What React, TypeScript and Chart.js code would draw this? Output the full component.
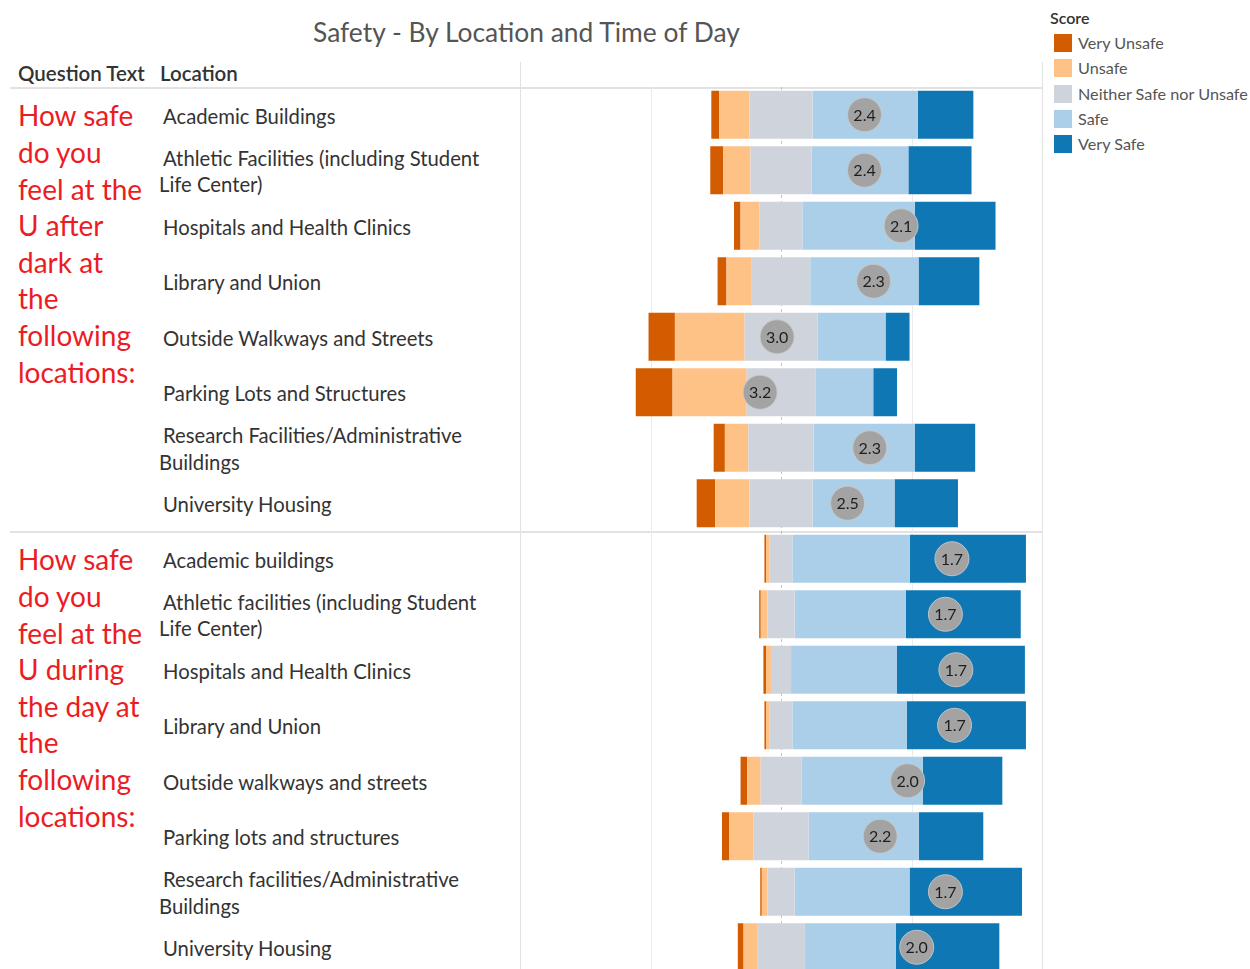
import React, { useEffect, useRef } from 'react';
import { Chart, registerables } from 'chart.js';

Chart.register(...registerables);

// ---------- Data ----------
const titleText = 'Safety - By Location and Time of Day';
const headerQuestion = 'Question Text';
const headerLocation = 'Location';
const legendTitle = 'Score';
const legendLabels = ['Very Unsafe', 'Unsafe', 'Neither Safe nor Unsafe', 'Safe', 'Very Safe'];

const questionNight = ['How safe', 'do you', 'feel at the', 'U after', 'dark at', 'the', 'following', 'locations:'];
const questionDay = ['How safe', 'do you', 'feel at the', 'U during', 'the day at', 'the', 'following', 'locations:'];

const locationsNight = [
  ['Academic Buildings'],
  ['Athletic Facilities (including Student', 'Life Center)'],
  ['Hospitals and Health Clinics'],
  ['Library and Union'],
  ['Outside Walkways and Streets'],
  ['Parking Lots and Structures'],
  ['Research Facilities/Administrative', 'Buildings'],
  ['University Housing'],
];
const locationsDay = [
  ['Academic buildings'],
  ['Athletic facilities (including Student', 'Life Center)'],
  ['Hospitals and Health Clinics'],
  ['Library and Union'],
  ['Outside walkways and streets'],
  ['Parking lots and structures'],
  ['Research facilities/Administrative', 'Buildings'],
  ['University Housing'],
];

// percentages per row (night rows first, then day rows)
const veryUnsafe = [3.0, 4.9, 2.5, 3.4, 10.1, 14.1, 4.3, 7.1, 0.6, 0.6, 1.0, 0.6, 2.5, 2.8, 0.6, 2.2];
const unsafe = [11.6, 10.5, 7.3, 9.7, 26.7, 28.4, 9.0, 13.1, 1.4, 2.5, 1.9, 1.4, 5.2, 9.2, 2.1, 5.2];
const neither = [24.2, 23.4, 16.4, 22.4, 27.9, 26.3, 25.0, 24.2, 8.7, 10.5, 7.7, 8.7, 15.6, 21.2, 10.5, 18.3];
const safe = [40.3, 37.1, 43.1, 41.5, 26.1, 22.2, 38.7, 31.4, 45.0, 42.6, 40.6, 43.9, 46.5, 42.2, 44.0, 34.8];
const verySafe = [21.3, 24.2, 30.9, 23.3, 9.2, 9.1, 23.2, 24.3, 44.5, 44.0, 49.0, 45.6, 30.5, 24.7, 43.1, 39.7];
// mean score (1 = Very Safe ... 5 = Very Unsafe)
const meanScore = [2.36, 2.36, 2.08, 2.29, 3.03, 3.16, 2.32, 2.49, 1.69, 1.74, 1.66, 1.67, 2.03, 2.24, 1.74, 1.96];

const gridValues = [-50, 0, 50];

// ---------- Styles ----------
const COLORS = {
  veryUnsafe: '#d35c00',
  unsafe: '#fec186',
  neither: '#cfd4dc',
  safe: '#abcfe8',
  verySafe: '#0f77b3',
};
const legendColors = [COLORS.veryUnsafe, COLORS.unsafe, COLORS.neither, COLORS.safe, COLORS.verySafe];
const FONT = 'Lato, "Open Sans", sans-serif';
const ROW_H = 55.5;
const CHART_TOP = 87;
const CHART_LEFT = 520;
const CHART_W = 522;
const X_MIN = -100;
const X_MAX = 100;

const categories = [...locationsNight, ...locationsDay].map((l) => l.join(' '));

const gridPlugin = {
  id: 'customGrid',
  beforeDatasetsDraw(chart: any) {
    const { ctx, chartArea, scales } = chart;
    const x = scales.x;
    gridValues.forEach((v) => {
      const px = Math.round(x.getPixelForValue(v)) + 0.5;
      ctx.save();
      ctx.strokeStyle = v === 0 ? '#c4c4c4' : '#ececec';
      ctx.lineWidth = 1;
      ctx.setLineDash(v === 0 ? [3, 3] : []);
      ctx.beginPath();
      ctx.moveTo(px, chartArea.top);
      ctx.lineTo(px, chartArea.bottom);
      ctx.stroke();
      ctx.restore();
    });
  },
};

const meanLabelPlugin = {
  id: 'meanLabels',
  afterDatasetsDraw(chart: any) {
    const { ctx } = chart;
    const idx = chart.data.datasets.findIndex((d: any) => d.label === 'Mean score');
    const meta = chart.getDatasetMeta(idx);
    ctx.save();
    ctx.font = '16px ' + FONT;
    ctx.fillStyle = '#1e1e1e';
    ctx.textAlign = 'center';
    ctx.textBaseline = 'middle';
    meta.data.forEach((pt: any, i: number) => {
      ctx.fillText(meanScore[i].toFixed(1), pt.x, pt.y + 1);
    });
    ctx.restore();
  },
};

function ChartCanvas() {
  const ref = useRef<HTMLCanvasElement | null>(null);
  useEffect(() => {
    if (!ref.current) return;
    const half = neither.map((v) => v / 2);
    const barCommon = {
      stack: 'likert',
      barPercentage: 0.865,
      categoryPercentage: 1,
      borderWidth: 0,
      order: 1,
    };
    const chart = new Chart(ref.current, {
      type: 'bar',
      data: {
        labels: categories,
        datasets: [
          { ...barCommon, label: 'Neither Safe nor Unsafe', data: half.map((v) => -v), backgroundColor: COLORS.neither },
          { ...barCommon, label: 'Neither (right half)', data: half, backgroundColor: COLORS.neither },
          { ...barCommon, label: 'Unsafe', data: unsafe.map((v) => -v), backgroundColor: COLORS.unsafe },
          { ...barCommon, label: 'Safe', data: safe, backgroundColor: COLORS.safe },
          { ...barCommon, label: 'Very Unsafe', data: veryUnsafe.map((v) => -v), backgroundColor: COLORS.veryUnsafe },
          { ...barCommon, label: 'Very Safe', data: verySafe, backgroundColor: COLORS.verySafe },
          {
            type: 'line',
            label: 'Mean score',
            indexAxis: 'y',
            stack: 'mean',
            order: 0,
            showLine: false,
            data: meanScore.map((s) => (3 - s) * 50),
            pointRadius: 17,
            pointHoverRadius: 17,
            pointBackgroundColor: '#a3a3a3',
            pointBorderColor: 'rgba(200,200,200,0.9)',
            pointBorderWidth: 1,
          } as any,
        ],
      },
      options: {
        indexAxis: 'y',
        responsive: false,
        animation: false,
        events: [],
        layout: { padding: 0, autoPadding: false },
        plugins: { legend: { display: false }, tooltip: { enabled: false } },
        scales: {
          x: { type: 'linear', min: X_MIN, max: X_MAX, stacked: true, display: false },
          y: { type: 'category', stacked: true, display: false, offset: true },
        },
      } as any,
      plugins: [gridPlugin, meanLabelPlugin],
    });
    return () => chart.destroy();
  }, []);
  return (
    <canvas
      ref={ref}
      width={CHART_W}
      height={ROW_H * 16}
      style={{ position: 'absolute', left: CHART_LEFT, top: CHART_TOP, width: CHART_W, height: ROW_H * 16 }}
    />
  );
}

function hLine(top: number) {
  return <div style={{ position: 'absolute', left: 10, top, width: 1032, height: 2, background: '#e2e2e2' }} />;
}
function vLine(left: number) {
  return <div style={{ position: 'absolute', left, top: 62, width: 1.5, height: 910, background: '#e2e2e2' }} />;
}

export default function App() {
  const groups = [
    { q: questionNight, locs: locationsNight, offset: 0 },
    { q: questionDay, locs: locationsDay, offset: 8 },
  ];
  const LABEL_LH = 26.5;
  const Q_LH = 36.6;
  return (
    <div
      style={{
        position: 'absolute',
        left: 0,
        top: 0,
        width: 1250,
        height: 969,
        overflow: 'hidden',
        background: '#fff',
        fontFamily: FONT,
      }}
    >
      <div
        style={{
          position: 'absolute',
          left: 313,
          top: 16,
          fontSize: 26.4,
          lineHeight: '32px',
          color: '#555',
          whiteSpace: 'nowrap',
        }}
      >
        {titleText}
      </div>

      <div style={{ position: 'absolute', left: 18, top: 61, fontSize: 20.5, lineHeight: '24px', fontWeight: 600, color: '#333', whiteSpace: 'nowrap' }}>
        {headerQuestion}
      </div>
      <div style={{ position: 'absolute', left: 160, top: 61, fontSize: 20.5, lineHeight: '24px', fontWeight: 600, color: '#333', whiteSpace: 'nowrap' }}>
        {headerLocation}
      </div>

      {hLine(87)}
      {hLine(531)}
      {vLine(519.5)}
      {vLine(1041.5)}

      {groups.map((g, gi) => (
        <React.Fragment key={gi}>
          {g.q.map((line, li) => {
            const firstCenter = CHART_TOP + ROW_H * (g.offset + 0.5) + 1;
            return (
              <div
                key={'q' + li}
                style={{
                  position: 'absolute',
                  left: 18,
                  top: firstCenter + li * Q_LH - Q_LH / 2,
                  fontSize: 28,
                  lineHeight: Q_LH + 'px',
                  color: '#ec1c24',
                  whiteSpace: 'nowrap',
                }}
              >
                {line}
              </div>
            );
          })}
          {g.locs.map((lines, ri) => {
            const center = CHART_TOP + ROW_H * (g.offset + ri + 0.5) + 1;
            const top0 = center - (lines.length * LABEL_LH) / 2;
            return lines.map((t, k) => (
              <div
                key={'l' + ri + '-' + k}
                style={{
                  position: 'absolute',
                  left: k === 0 ? 163 : 159,
                  top: top0 + k * LABEL_LH,
                  fontSize: 20.3,
                  lineHeight: LABEL_LH + 'px',
                  color: '#333',
                  whiteSpace: 'nowrap',
                }}
              >
                {t}
              </div>
            ));
          })}
        </React.Fragment>
      ))}

      <ChartCanvas />

      <div style={{ position: 'absolute', left: 1050, top: 8, fontSize: 16, lineHeight: '20px', fontWeight: 600, color: '#333' }}>
        {legendTitle}
      </div>
      {legendLabels.map((l, i) => (
        <React.Fragment key={l}>
          <div
            style={{
              position: 'absolute',
              left: 1054,
              top: 34 + i * 25.3,
              width: 18,
              height: 18,
              background: legendColors[i],
            }}
          />
          <div
            style={{
              position: 'absolute',
              left: 1078,
              top: 32 + i * 25.3,
              fontSize: 16.2,
              lineHeight: '22px',
              color: '#555',
              whiteSpace: 'nowrap',
            }}
          >
            {l}
          </div>
        </React.Fragment>
      ))}
    </div>
  );
}
